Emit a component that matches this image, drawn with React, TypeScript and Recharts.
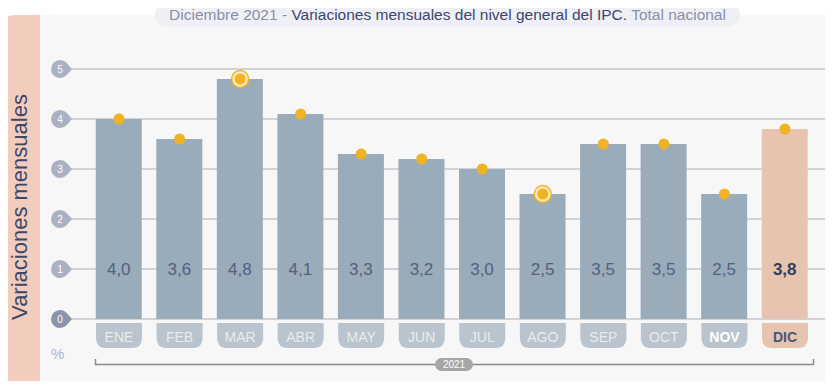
import React from 'react';
import { ComposedChart, Bar, Line, Cell, XAxis, YAxis, CartesianGrid, LabelList } from 'recharts';

const months = ['ENE', 'FEB', 'MAR', 'ABR', 'MAY', 'JUN', 'JUL', 'AGO', 'SEP', 'OCT', 'NOV', 'DIC'];
const values = [4.0, 3.6, 4.8, 4.1, 3.3, 3.2, 3.0, 2.5, 3.5, 3.5, 2.5, 3.8];
const ringed = ['MAR', 'AGO'];
const yTicks = [0, 1, 2, 3, 4, 5];
const current = 'DIC';
const previous = 'NOV';

const data = months.map((m, i) => ({ month: m, value: values[i] }));

const FONT = '"Liberation Sans", Arial, Helvetica, sans-serif';

const YTick = ({ x, y, payload }: any) => {
  const cx = x - 10;
  const cy = y;
  const fill = payload.value === 0 ? '#8d93aa' : '#aab1c3';
  return (
    <g>
      <path
        d={`M ${cx + 12} ${cy} L ${cx + 6.75} ${cy - 5.95} A 9 9 0 1 0 ${cx + 6.75} ${cy + 5.95} Z`}
        fill={fill}
      />
      <text x={cx} y={cy} textAnchor="middle" dominantBaseline="central" fontSize={10} fill="#fff" fontFamily={FONT}>
        {payload.value}
      </text>
    </g>
  );
};

const XTick = ({ x, y, payload }: any) => {
  const m = payload.value;
  const isCur = m === current;
  const isPrev = m === previous;
  const w = 46;
  const h = 25;
  const top = y + 4;
  const r = 10;
  const l = x - w / 2;
  const d = `M ${l} ${top} H ${l + w} V ${top + h - r} Q ${l + w} ${top + h} ${l + w - r} ${top + h} H ${l + r} Q ${l} ${top + h} ${l} ${top + h - r} Z`;
  return (
    <g>
      <path d={d} fill={isCur ? '#e6c4af' : '#b9c4ce'} />
      <text
        x={x}
        y={top + h / 2 + 1}
        textAnchor="middle"
        dominantBaseline="central"
        fontSize={14}
        fontWeight={isCur || isPrev ? 'bold' : 'normal'}
        fill={isCur ? '#46567a' : isPrev ? '#ffffff' : '#e8ecf0'}
        fontFamily={FONT}
      >
        {m}
      </text>
    </g>
  );
};

const ValueLabel = ({ x, y, width, height, value, index }: any) => {
  const isCur = months[index] === current;
  const ly = y + height - height / value;
  return (
    <text
      x={x + width / 2}
      y={ly}
      textAnchor="middle"
      dominantBaseline="central"
      fontSize={17}
      fontWeight={isCur ? 'bold' : 'normal'}
      fill={isCur ? '#2f3d5e' : '#52627f'}
      fontFamily={FONT}
    >
      {value.toFixed(1).replace('.', ',')}
    </text>
  );
};

const Dot = ({ cx, cy, payload }: any) => {
  if (cx == null || cy == null) return null;
  const ring = ringed.includes(payload.month);
  return (
    <g key={payload.month}>
      {ring && <circle cx={cx} cy={cy} r={8.5} fill="#fbe9c6" stroke="#f0b323" strokeWidth={1.5} />}
      <circle cx={cx} cy={cy} r={5.5} fill="#f0b323" />
    </g>
  );
};

export default function App() {
  return (
    <div style={{ position: 'relative', width: 833, height: 389, background: '#fff', fontFamily: FONT, margin: -8 }}>
      <div style={{ position: 'absolute', left: 0, top: 15, width: 833, height: 374, background: '#f7f7f7' }} />
      <div
        style={{
          position: 'absolute',
          left: 0,
          top: 15,
          width: 40,
          height: 374,
          background: '#f2cdbd',
          borderTopLeftRadius: 15,
        }}
      />
      <div
        style={{
          position: 'absolute',
          left: 20,
          top: 207,
          transform: 'translate(-50%, -50%) rotate(-90deg)',
          whiteSpace: 'nowrap',
          fontSize: 22,
          color: '#3d4866',
        }}
      >
        Variaciones mensuales
      </div>
      <div
        style={{
          position: 'absolute',
          left: 155,
          top: 2,
          width: 585,
          height: 25,
          borderRadius: 13,
          background: '#efeff6',
          fontSize: 15.5,
          lineHeight: '25px',
          textAlign: 'center',
          whiteSpace: 'nowrap',
          color: '#8a90a8',
        }}
      >
        Diciembre 2021 - <span style={{ color: '#3d4670' }}>Variaciones mensuales del nivel general del IPC.</span> Total nacional
      </div>
      <div style={{ position: 'absolute', left: 51, top: 345, fontSize: 15, color: '#a9b5d2' }}>%</div>
      <div style={{ position: 'absolute', left: 0, top: 0 }}>
        <ComposedChart width={833} height={389} data={data} margin={{ top: 69, right: 0, bottom: 0, left: 0 }}>
          <CartesianGrid vertical={false} stroke="#c6c7cb" strokeWidth={1.5} />
          <XAxis
            dataKey="month"
            height={70}
            padding={{ left: 18.75, right: 17.75 }}
            axisLine={false}
            tickLine={false}
            tickSize={0}
            tickMargin={0}
            interval={0}
            tick={<XTick />}
          />
          <YAxis
            width={70}
            domain={[0, 5]}
            ticks={yTicks}
            axisLine={false}
            tickLine={false}
            tickSize={0}
            tickMargin={0}
            tick={<YTick />}
          />
          <Bar dataKey="value" barSize={46} isAnimationActive={false}>
            {data.map((d) => (
              <Cell key={d.month} fill={d.month === current ? '#e6c4af' : '#9aabb9'} />
            ))}
            <LabelList dataKey="value" content={<ValueLabel />} />
          </Bar>
          <Line dataKey="value" stroke="none" dot={<Dot />} activeDot={false} isAnimationActive={false} />
        </ComposedChart>
      </div>
      <svg style={{ position: 'absolute', left: 0, top: 0, pointerEvents: 'none' }} width={833} height={389}>
        <path d="M 95.5 359 V 364.5 H 813.5 V 359" fill="none" stroke="#8c8c8c" strokeWidth={1.5} />
        <rect x={435} y={358} width={38} height={13} rx={6.5} fill="#a6a6a6" />
        <text x={454} y={364.8} textAnchor="middle" dominantBaseline="central" fontSize={10} fill="#fff" fontFamily={FONT}>
          2021
        </text>
      </svg>
    </div>
  );
}
